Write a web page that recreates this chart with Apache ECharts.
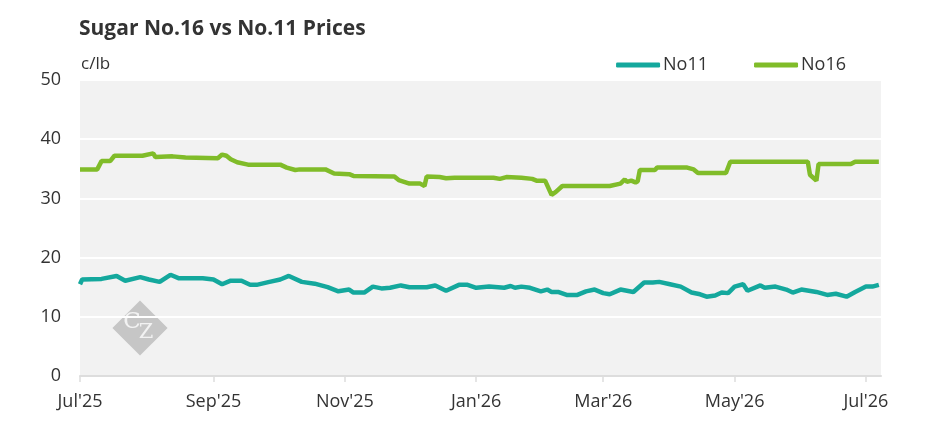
<!DOCTYPE html>
<html>
<head>
<meta charset="utf-8">
<script src="https://cdn.jsdelivr.net/npm/echarts@6/dist/echarts.min.js"></script>
<style>
html,body{margin:0;padding:0;background:#fff;}
#chart{width:945px;height:443px;}
</style>
</head>
<body>
<div id="chart"></div>
<script>
var titleText = 'Sugar No.16 vs No.11 Prices';
var unitText = 'c/lb';
var seriesNames = ['No11', 'No16'];
var tickDates = ['2025-07-01','2025-09-01','2025-11-01','2026-01-01','2026-03-01','2026-05-01','2026-07-01'];
var monthNames = ['Jan','Feb','Mar','Apr','May','Jun','Jul','Aug','Sep','Oct','Nov','Dec'];

var no11Dates = ['2025-07-01','2025-07-02','2025-07-11','2025-07-18','2025-07-22','2025-07-29','2025-08-02','2025-08-07','2025-08-12','2025-08-16','2025-08-27','2025-09-01','2025-09-05','2025-09-09','2025-09-14','2025-09-18','2025-09-21','2025-09-27','2025-10-02','2025-10-06','2025-10-12','2025-10-18','2025-10-24','2025-10-29','2025-11-03','2025-11-05','2025-11-10','2025-11-14','2025-11-18','2025-11-22','2025-11-27','2025-12-01','2025-12-09','2025-12-13','2025-12-18','2025-12-24','2025-12-28','2026-01-01','2026-01-07','2026-01-14','2026-01-17','2026-01-19','2026-01-22','2026-01-26','2026-01-31','2026-02-03','2026-02-05','2026-02-08','2026-02-12','2026-02-17','2026-02-21','2026-02-25','2026-03-01','2026-03-04','2026-03-09','2026-03-15','2026-03-20','2026-03-24','2026-03-27','2026-04-01','2026-04-06','2026-04-11','2026-04-15','2026-04-18','2026-04-22','2026-04-25','2026-04-28','2026-05-01','2026-05-05','2026-05-07','2026-05-13','2026-05-15','2026-05-20','2026-05-25','2026-05-28','2026-06-01','2026-06-08','2026-06-13','2026-06-17','2026-06-22','2026-06-26','2026-07-01','2026-07-04','2026-07-07'];
var no11Values = [15.5,16.3,16.4,16.9,16.1,16.7,16.3,15.9,17.1,16.5,16.5,16.3,15.5,16.1,16.1,15.4,15.4,15.9,16.3,16.9,15.9,15.6,15.0,14.3,14.6,14.1,14.1,15.1,14.8,14.9,15.3,15.0,15.0,15.3,14.4,15.4,15.4,14.9,15.1,14.9,15.2,14.9,15.1,14.9,14.3,14.6,14.2,14.2,13.7,13.7,14.3,14.6,14.0,13.8,14.6,14.2,15.8,15.8,15.9,15.5,15.1,14.1,13.8,13.4,13.6,14.1,14.0,15.1,15.5,14.4,15.3,14.9,15.1,14.6,14.1,14.6,14.2,13.7,13.9,13.4,14.2,15.1,15.1,15.4];

var no16Dates = ['2025-07-01','2025-07-09','2025-07-11','2025-07-15','2025-07-17','2025-07-30','2025-08-04','2025-08-05','2025-08-13','2025-08-19','2025-09-03','2025-09-05','2025-09-07','2025-09-09','2025-09-12','2025-09-17','2025-10-02','2025-10-05','2025-10-09','2025-10-11','2025-10-23','2025-10-27','2025-11-03','2025-11-05','2025-11-24','2025-11-26','2025-12-01','2025-12-06','2025-12-08','2025-12-09','2025-12-15','2025-12-18','2025-12-22','2026-01-09','2026-01-12','2026-01-15','2026-01-22','2026-01-27','2026-01-29','2026-02-02','2026-02-05','2026-02-07','2026-02-10','2026-03-04','2026-03-09','2026-03-11','2026-03-12','2026-03-14','2026-03-16','2026-03-17','2026-03-18','2026-03-25','2026-03-26','2026-04-09','2026-04-12','2026-04-14','2026-04-27','2026-04-29','2026-06-04','2026-06-05','2026-06-08','2026-06-09','2026-06-24','2026-06-26','2026-07-07'];
var no16Values = [34.9,34.9,36.3,36.3,37.2,37.2,37.6,37.0,37.1,36.9,36.8,37.4,37.2,36.6,36.1,35.7,35.7,35.2,34.8,34.9,34.9,34.2,34.1,33.8,33.7,33.1,32.5,32.5,32.1,33.7,33.6,33.4,33.5,33.5,33.3,33.6,33.5,33.3,33.0,33.0,30.6,31.1,32.1,32.1,32.5,33.2,32.8,33.0,32.7,32.9,34.8,34.8,35.2,35.2,34.9,34.3,34.3,36.2,36.2,34.0,33.0,35.8,35.8,36.2,36.2];

var xMin = '2025-07-01';
var xMax = '2026-07-08';

function ts(s) { var p = s.split('-'); return Date.UTC(+p[0], +p[1] - 1, +p[2]); }
function pairs(d, v) { return d.map(function (x, i) { return [ts(x), v[i]]; }); }

var FONT = '"Open Sans", sans-serif';
var tickTs = tickDates.map(ts);
var chart = echarts.init(document.getElementById('chart'));
chart.setOption({
  animation: false,
  backgroundColor: '#ffffff',
  textStyle: { fontFamily: FONT },
  title: {
    text: titleText, left: 79, top: 19, padding: 0,
    textStyle: { fontFamily: FONT, fontSize: 21, fontWeight: 'bold', color: '#333333' }
  },
  legend: {
    data: seriesNames, right: 99, top: 56, padding: 0,
    icon: 'roundRect', itemWidth: 44, itemHeight: 5, itemGap: 46,
    textStyle: { fontFamily: FONT, fontSize: 18, color: '#333333', padding: [0, 0, 0, -2] }
  },
  grid: {
    left: 80, right: 64, top: 80, bottom: 67, containLabel: false,
    show: true, backgroundColor: '#f2f2f2', borderWidth: 0
  },
  xAxis: {
    type: 'value',
    min: ts(xMin), max: ts(xMax),
    axisLine: { show: true, lineStyle: { color: '#dddddd', width: 2 } },
    axisTick: { show: true, length: 6, lineStyle: { color: '#dddddd', width: 1.5 }, customValues: tickTs },
    splitLine: { show: false },
    axisLabel: {
      customValues: tickTs,
      margin: 17, fontSize: 18, color: '#333333', fontFamily: FONT,
      formatter: function (v) {
        var d = new Date(v);
        return monthNames[d.getUTCMonth()] + "'" + String(d.getUTCFullYear()).slice(2);
      }
    }
  },
  yAxis: {
    type: 'value', min: 0, max: 50, interval: 10,
    name: unitText, nameLocation: 'end', nameGap: 16,
    nameTextStyle: { align: 'left', verticalAlign: 'middle', fontSize: 17, color: '#333333', fontFamily: FONT, padding: [0, 0, 0, 1] },
    axisLine: { show: false },
    axisTick: { show: false },
    axisLabel: { margin: 19, fontSize: 18, color: '#333333', fontFamily: FONT },
    splitLine: { show: true, lineStyle: { color: '#ffffff', width: 2 } }
  },
  graphic: [
    {
      type: 'group', x: 140, y: 328, z: 1,
      children: [
        { type: 'rect', rotation: Math.PI / 4, shape: { x: -19.5, y: -19.5, width: 39, height: 39 }, style: { fill: '#c6c6c6' } },
        { type: 'text', x: -8, y: -6, style: { text: 'C', font: '23px "DejaVu Serif", serif', fill: '#f2f2f2', align: 'center', verticalAlign: 'middle' } },
        { type: 'text', x: 6, y: 5, style: { text: 'Z', font: '21px "DejaVu Serif", serif', fill: '#f2f2f2', align: 'center', verticalAlign: 'middle' } }
      ]
    }
  ],
  series: [
    {
      name: seriesNames[0], type: 'line', data: pairs(no11Dates, no11Values),
      showSymbol: false, symbol: 'none', z: 3,
      itemStyle: { color: '#14a89d' },
      lineStyle: { color: '#14a89d', width: 4.5 }
    },
    {
      name: seriesNames[1], type: 'line', data: pairs(no16Dates, no16Values),
      showSymbol: false, symbol: 'none', z: 3,
      itemStyle: { color: '#80bc29' },
      lineStyle: { color: '#80bc29', width: 4.5 }
    }
  ]
});
</script>
</body>
</html>
